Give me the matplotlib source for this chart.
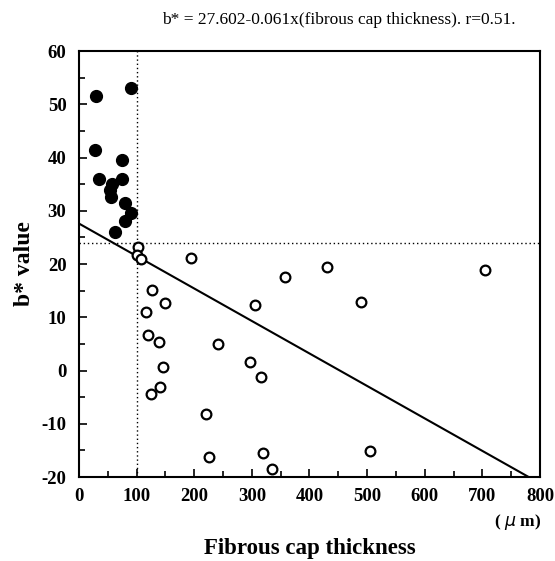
# b* value vs fibrous cap thickness scatter with regression line

import matplotlib.pyplot as plt
import numpy as np
from matplotlib.ticker import MultipleLocator

# Filled points (thin caps)
thin_x = [30, 90, 28, 75, 35, 75, 57, 54, 55, 80, 90, 80, 63]
thin_y = [51.5, 53.0, 41.5, 39.5, 36.0, 36.0, 35.0, 33.9, 32.6, 31.5, 29.6, 28.0, 26.0]

# Open points (thick caps)
thick_x = [103, 100, 108, 195, 357, 127, 150, 305, 117, 120, 138, 242, 146,
           297, 315, 140, 125, 220, 320, 225, 335, 430, 705, 490, 505]
thick_y = [23.2, 21.7, 21.0, 21.1, 17.6, 15.1, 12.7, 12.3, 11.0, 6.6, 5.3, 5.0, 0.6,
           1.6, -1.3, -3.1, -4.5, -8.2, -15.4, -16.3, -18.5, 19.5, 18.8, 12.9, -15.2]

# Regression: b* = 27.602 - 0.061 x
intercept = 27.602
slope = -0.061

plt.rcParams["font.family"] = ["Liberation Serif", "DejaVu Serif"]
plt.rcParams["axes.unicode_minus"] = False

fig = plt.figure(figsize=(5.55, 5.61), dpi=100)
ax = fig.add_axes([0.1423, 0.1497, 0.8307, 0.7593])

# Threshold lines
ax.axvline(100, color="black", lw=1.0, ls=(0, (1, 2)), zorder=1)
ax.axhline(24, color="black", lw=1.0, ls=(0, (1, 2)), zorder=1)

# Regression line
x_end = (-20 - intercept) / slope
fit_x = np.array([0, x_end])
ax.plot(fit_x, intercept + slope * fit_x, color="black", lw=1.5, zorder=2)

ax.plot(thin_x, thin_y, "o", ms=8.5, mfc="black", mec="black", zorder=3)
ax.plot(thick_x, thick_y, "o", ms=7, mfc="white", mec="black", mew=1.6, zorder=3)

ax.set_xlim(0, 800)
ax.set_ylim(-20, 60)
ax.xaxis.set_major_locator(MultipleLocator(100))
ax.xaxis.set_minor_locator(MultipleLocator(50))
ax.yaxis.set_major_locator(MultipleLocator(10))
ax.yaxis.set_minor_locator(MultipleLocator(5))
ax.tick_params(which="both", direction="in", top=False, right=False, width=1.2)
ax.tick_params(which="major", length=6, labelsize=13.5)
ax.tick_params(axis="y", which="major", pad=9)
ax.tick_params(axis="x", which="major", pad=8)
ax.tick_params(which="minor", length=4)
for lab in ax.get_xticklabels() + ax.get_yticklabels():
    lab.set_fontweight("bold")
for sp in ax.spines.values():
    sp.set_linewidth(1.5)

ax.set_xlabel("Fibrous cap thickness", fontsize=16.5, fontweight="bold", labelpad=24)
ax.set_ylabel("b* value", fontsize=17, fontweight="bold", labelpad=5)
fig.text(0.975, 0.07, "( $\\mu$ m)", ha="right", va="center", fontsize=12.5,
         fontweight="bold")
fig.text(0.61, 0.965, "b* = 27.602-0.061x(fibrous cap thickness). r=0.51.",
         ha="center", va="center", fontsize=12.5)

fig.savefig("out.png", dpi=100)
